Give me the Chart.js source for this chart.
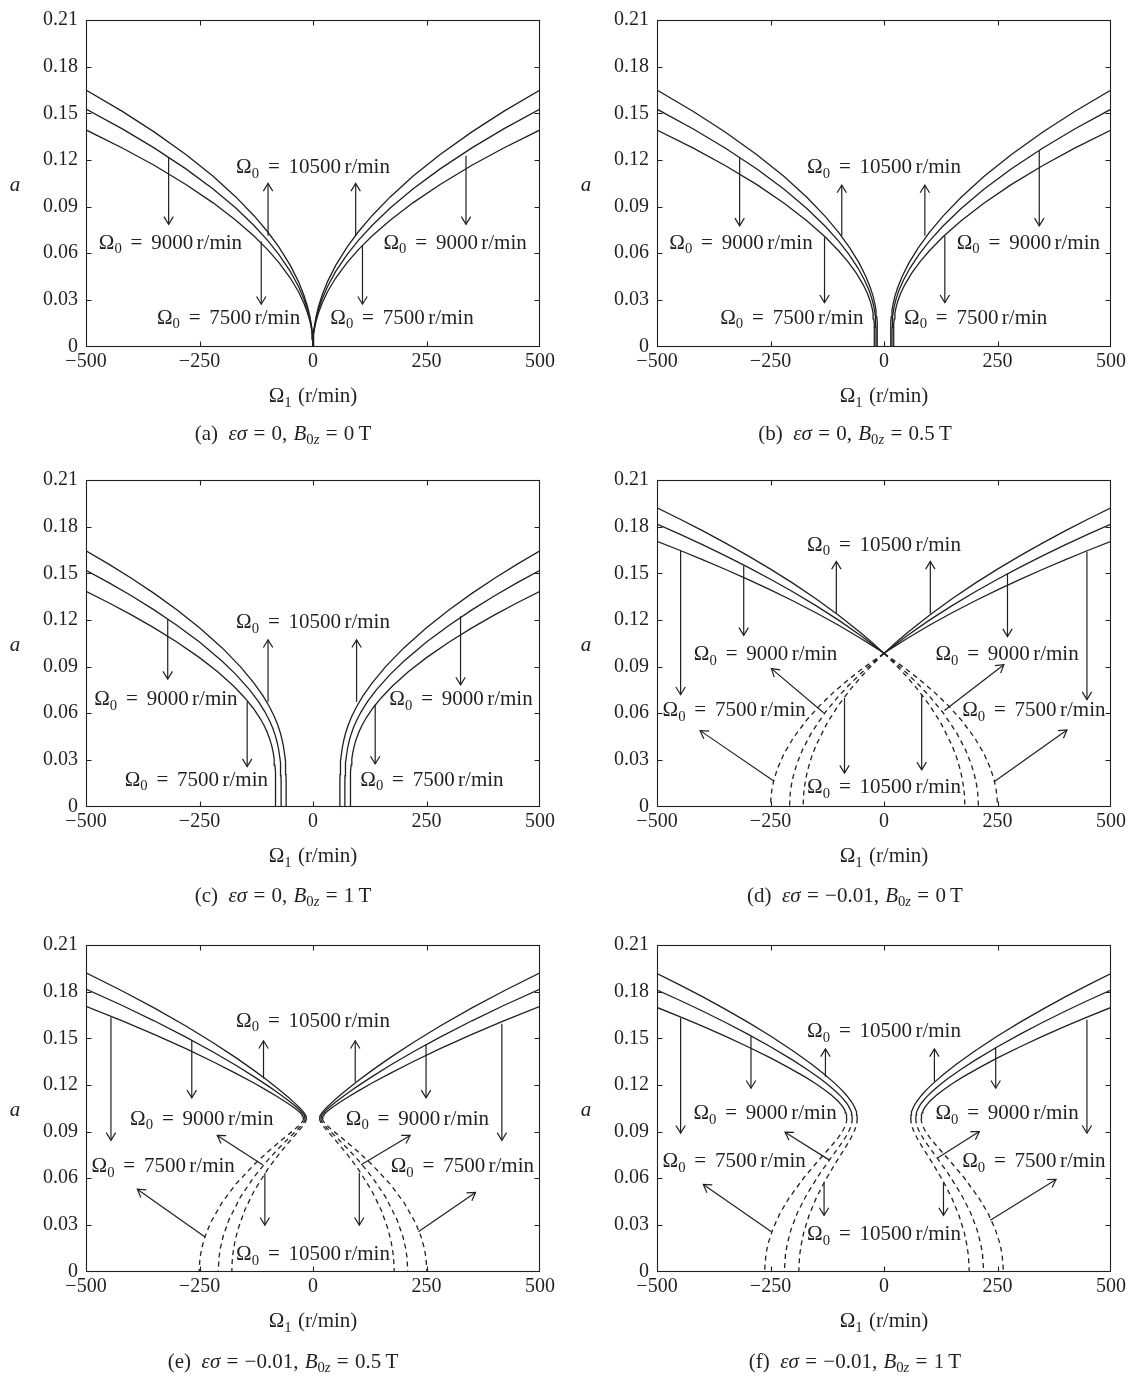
<!DOCTYPE html>
<html>
<head>
<meta charset="utf-8">
<title>a versus Omega1</title>
<script src="https://cdn.jsdelivr.net/npm/chart.js@4.4.1/dist/chart.umd.min.js"></script>
<style>
html,body{margin:0;padding:0;background:#fff;}
body{width:1133px;height:1376px;position:relative;overflow:hidden;}
canvas{position:absolute;}
.cap{position:absolute;transform:translate(-50%,-50%);white-space:nowrap;font-family:"Liberation Serif","Times New Roman",serif;font-size:21px;color:#231f20;line-height:1;word-spacing:1px;}
.cap sub{font-size:0.7em;vertical-align:-0.3em;line-height:0;}
</style>
</head>
<body>
<canvas id="cv-a" width="566" height="440" style="left:0px;top:0px"></canvas>
<canvas id="cv-b" width="567" height="440" style="left:566px;top:0px"></canvas>
<canvas id="cv-c" width="566" height="440" style="left:0px;top:460px"></canvas>
<canvas id="cv-d" width="567" height="440" style="left:566px;top:460px"></canvas>
<canvas id="cv-e" width="566" height="440" style="left:0px;top:925px"></canvas>
<canvas id="cv-f" width="567" height="440" style="left:566px;top:925px"></canvas>

<div class="cap" style="left:283px;top:433px">(a)&ensp;<i>εσ</i> = 0, <i>B</i><sub>0<i>z</i></sub> = 0&thinsp;T</div>
<div class="cap" style="left:855px;top:433px">(b)&ensp;<i>εσ</i> = 0, <i>B</i><sub>0<i>z</i></sub> = 0.5&thinsp;T</div>
<div class="cap" style="left:283px;top:895px">(c)&ensp;<i>εσ</i> = 0, <i>B</i><sub>0<i>z</i></sub> = 1&thinsp;T</div>
<div class="cap" style="left:855px;top:895px">(d)&ensp;<i>εσ</i> = −0.01, <i>B</i><sub>0<i>z</i></sub> = 0&thinsp;T</div>
<div class="cap" style="left:283px;top:1361px">(e)&ensp;<i>εσ</i> = −0.01, <i>B</i><sub>0<i>z</i></sub> = 0.5&thinsp;T</div>
<div class="cap" style="left:855px;top:1361px">(f)&ensp;<i>εσ</i> = −0.01, <i>B</i><sub>0<i>z</i></sub> = 1&thinsp;T</div>

<script>
// ---------- axes ----------
const xTickValues = [-500, -250, 0, 250, 500];
const xTickLabels = ['\u2212500', '\u2212250', '0', '250', '500'];
const yTickValues = [0, 0.03, 0.06, 0.09, 0.12, 0.15, 0.18, 0.21];
const yTickLabels = ['0', '0.03', '0.06', '0.09', '0.12', '0.15', '0.18', '0.21'];

// ---------- data: |Omega1| (r/min) and a (curves are mirror-symmetric) ----------
// (a) es = 0, B0z = 0 T
const absOmega1_a = [0,0.5,1.5,3.5,7,12,20,32,50,75,100,130,170,220,280,350,420,500];
const a_a_10500 = [0,0.00522,0.00904,0.01380,0.01952,0.02556,0.03300,0.04174,0.05218,0.06390,0.07379,0.08413,0.09621,0.10945,0.12347,0.13805,0.15123,0.16500];
const a_a_9000  = [0,0.00483,0.00836,0.01278,0.01807,0.02366,0.03054,0.03863,0.04829,0.05914,0.06829,0.07786,0.08903,0.10128,0.11426,0.12775,0.13995,0.15269];
const a_a_7500  = [0,0.00441,0.00763,0.01165,0.01648,0.02158,0.02786,0.03524,0.04405,0.05395,0.06230,0.07103,0.08123,0.09240,0.10424,0.11655,0.12767,0.13930];

// (b) es = 0, B0z = 0.5 T
const absOmega1_b_10500 = [14.5,14.6,14.8,15.2,16,17.5,20,24,30,40,55,75,100,130,170,220,280,350,420,500];
const a_b_10500 = [0,0.00964,0.01271,0.01576,0.01919,0.02310,0.02739,0.03227,0.03782,0.04505,0.05375,0.06330,0.07340,0.08387,0.09604,0.10933,0.12339,0.13799,0.15118,0.16497];
const absOmega1_b_9000 = [17.5,17.6,17.8,18.2,19,20.5,23,27,33,43,58,78,100,130,170,220,280,350,420,500];
const a_b_9000 = [0,0.00935,0.01232,0.01527,0.01857,0.02231,0.02638,0.03096,0.03612,0.04280,0.05078,0.05954,0.06776,0.07750,0.08880,0.10112,0.11415,0.12767,0.13988,0.15265];
const absOmega1_b_7500 = [21,21.1,21.3,21.7,22.5,24,26.5,30.5,36.5,46,61,80,100,130,170,220,280,350,420,500];
const a_b_7500 = [0,0.00892,0.01176,0.01457,0.01771,0.02124,0.02505,0.02930,0.03404,0.03985,0.04715,0.05474,0.06160,0.07056,0.08092,0.09219,0.10410,0.11644,0.12759,0.13924];

// (c) es = 0, B0z = 1 T
const absOmega1_c_10500 = [59,59.2,59.5,60,61,62.5,65,68,72,78,85,95,110,130,160,200,250,300,350,400,450,500];
const a_c_10500 = [0,0.01627,0.02047,0.02437,0.02904,0.03351,0.03854,0.04291,0.04740,0.05271,0.05772,0.06367,0.07110,0.07942,0.08999,0.10201,0.11501,0.12655,0.13706,0.14677,0.15586,0.16442];
const absOmega1_c_9000 = [70,70.2,70.5,71,72,73.5,76,79,83,89,96,106,120,140,170,200,250,300,350,400,450,500];
const a_c_9000 = [0,0.01571,0.01977,0.02353,0.02803,0.03233,0.03715,0.04132,0.04560,0.05063,0.05535,0.06092,0.06742,0.07519,0.08499,0.09347,0.10579,0.11663,0.12645,0.13552,0.14397,0.15194];
const absOmega1_c_7500 = [82,82.2,82.5,83,84,85.5,88,91,95,101,108,118,132,150,175,210,250,300,350,400,450,500];
const a_c_7500 = [0,0.01491,0.01876,0.02233,0.02659,0.03065,0.03521,0.03913,0.04315,0.04784,0.05223,0.05739,0.06336,0.06982,0.07746,0.08662,0.09574,0.10583,0.11492,0.12326,0.13104,0.13836];

// (d) es = -0.01, B0z = 0 T
const absOmega1_d_solid = [0,10,25,50,100,150,200,250,300,350,400,450,500];
const a_d_solid_10500 = [0.0985,0.10122,0.10518,0.11147,0.12307,0.13368,0.14350,0.15269,0.16136,0.16959,0.17743,0.18494,0.19216];
const a_d_solid_9000  = [0.0985,0.10084,0.10425,0.10970,0.11985,0.12922,0.13794,0.14615,0.15392,0.16131,0.16839,0.17517,0.18171];
const a_d_solid_7500  = [0.0985,0.10045,0.10331,0.10790,0.11655,0.12459,0.13215,0.13930,0.14610,0.15260,0.15883,0.16482,0.17061];
const absOmega1_d_dash_10500 = [0,25,50,75,100,125,150,160,168,173,176,177.5,178.2];
const a_d_dash_10500 = [0.0985,0.09133,0.08354,0.07496,0.06525,0.05381,0.03917,0.03146,0.02355,0.01680,0.01090,0.00609,0];
const absOmega1_d_dash_9000 = [0,25,50,75,100,130,160,180,192,200,204,206.5,208.1];
const a_d_dash_9000 = [0.0985,0.09239,0.08585,0.07877,0.07099,0.06033,0.04734,0.03617,0.02737,0.01939,0.01377,0.00854,0];
const absOmega1_d_dash_7500 = [0,25,50,80,110,140,170,200,220,235,243,247,249,250];
const a_d_dash_7500 = [0.0985,0.09344,0.08810,0.08122,0.07371,0.06533,0.05572,0.04405,0.03411,0.02412,0.01647,0.01077,0.00619,0];

// (e) es = -0.01, B0z = 0.5 T
const absOmega1_e_solid_10500 = [14.5,14.6,14.8,15.2,16,17.5,20,24,30,40,55,75,100,130,170,220,280,350,420,500];
const a_e_solid_10500 = [0.0985,0.09897,0.09931,0.09975,0.10035,0.10117,0.10224,0.10365,0.10551,0.10831,0.11221,0.11708,0.12284,0.12937,0.13757,0.14716,0.15788,0.16954,0.18044,0.19213];
const absOmega1_e_dash_10500 = [14.5,14.6,14.8,15.2,16,17.5,20,24,30,40,55,75,100,130,150,165,172,176,178,178.8];
const a_e_dash_10500 = [0.0985,0.09803,0.09768,0.09723,0.09661,0.09575,0.09461,0.09306,0.09095,0.08759,0.08254,0.07547,0.06569,0.05165,0.03966,0.02743,0.01923,0.01231,0.00648,0];
const absOmega1_e_solid_9000 = [17.5,17.6,17.8,18.2,19,20.5,23,27,33,43,58,78,100,130,170,220,280,350,420,500];
const a_e_solid_9000 = [0.0985,0.09894,0.09927,0.09968,0.10024,0.10100,0.10197,0.10325,0.10491,0.10739,0.11082,0.11509,0.11955,0.12533,0.13262,0.14117,0.15077,0.16125,0.17109,0.18167];
const absOmega1_e_dash_9000 = [17.5,17.6,17.8,18.2,19,20.5,23,27,33,43,58,78,100,130,160,185,198,204,207,208.8];
const a_e_dash_9000 = [0.0985,0.09805,0.09773,0.09731,0.09673,0.09594,0.09490,0.09351,0.09164,0.08872,0.08440,0.07847,0.07149,0.06079,0.04781,0.03338,0.02249,0.01498,0.00917,0];
const absOmega1_e_solid_7500 = [21,21.1,21.3,21.7,22.5,24,26.5,30.5,36.5,46,61,80,100,130,170,220,280,350,420,500];
const a_e_solid_7500 = [0.0985,0.09890,0.09920,0.09957,0.10008,0.10076,0.10163,0.10276,0.10421,0.10626,0.10920,0.11269,0.11617,0.12121,0.12747,0.13491,0.14331,0.15252,0.16119,0.17056];
const absOmega1_e_dash_7500 = [21,21.1,21.3,21.7,22.5,24,26.5,30.5,36.5,46,61,80,100,130,170,200,225,238,245,249,250.9];
const a_e_dash_7500 = [0.0985,0.09809,0.09780,0.09742,0.09689,0.09618,0.09526,0.09404,0.09243,0.09008,0.08648,0.08189,0.07686,0.06872,0.05617,0.04453,0.03175,0.02239,0.01512,0.00853,0];

// (f) es = -0.01, B0z = 1 T
const absOmega1_f_solid_10500 = [59,59.2,59.5,60,61,62.5,65,68,72,78,85,95,110,130,160,200,250,300,350,400,450,500];
const a_f_solid_10500 = [0.0985,0.09983,0.10060,0.10147,0.10269,0.10404,0.10577,0.10744,0.10931,0.11171,0.11417,0.11729,0.12148,0.12653,0.13342,0.14180,0.15143,0.16037,0.16878,0.17676,0.18437,0.19167];
const absOmega1_f_dash_10500 = [59,59.2,59.5,60,61,62.5,65,68,72,78,85,95,110,130,150,165,177,183,186,187.7];
const a_f_dash_10500 = [0.0985,0.09715,0.09635,0.09544,0.09412,0.09262,0.09065,0.08866,0.08634,0.08321,0.07981,0.07515,0.06817,0.05826,0.04683,0.03622,0.02481,0.01642,0.00988,0];
const absOmega1_f_solid_9000 = [70,70.2,70.5,71,72,73.5,76,79,83,89,96,106,120,140,170,200,250,300,350,400,450,500];
const a_f_solid_9000 = [0.0985,0.09974,0.10046,0.10127,0.10241,0.10367,0.10527,0.10682,0.10854,0.11075,0.11298,0.11582,0.11936,0.12392,0.13010,0.13579,0.14454,0.15266,0.16029,0.16753,0.17444,0.18107];
const absOmega1_f_dash_9000 = [70,70.2,70.5,71,72,73.5,76,79,83,89,96,106,120,140,170,190,205,213,217,219.5];
const a_f_dash_9000 = [0.0985,0.09724,0.09650,0.09565,0.09443,0.09304,0.09122,0.08941,0.08731,0.08449,0.08148,0.07740,0.07181,0.06363,0.04962,0.03828,0.02678,0.01793,0.01114,0];
const absOmega1_f_solid_7500 = [82,82.2,82.5,83,84,85.5,88,91,95,101,108,118,132,150,175,210,250,300,350,400,450,500];
const a_f_solid_7500 = [0.0985,0.09962,0.10027,0.10100,0.10203,0.10316,0.10460,0.10599,0.10753,0.10950,0.11149,0.11400,0.11712,0.12073,0.12531,0.13117,0.13736,0.14457,0.15135,0.15778,0.16393,0.16984];
const absOmega1_f_dash_7500 = [82,82.2,82.5,83,84,85.5,88,91,95,101,108,118,132,150,175,210,230,245,255,260,263.1];
const a_f_dash_7500 = [0.0985,0.09736,0.09670,0.09593,0.09484,0.09361,0.09199,0.09039,0.08855,0.08610,0.08351,0.08006,0.07542,0.06948,0.06084,0.04689,0.03691,0.02724,0.01819,0.01124,0];

// ---------- annotations (data coordinates) ----------
// labels: [Omega1, a, Omega0 text]; arrows: [Omega1 start, a start, Omega1 tip, a tip]
const labels_a = [[0,0.116,'10500'],[-314,0.0675,'9000'],[313,0.0675,'9000'],[-186,0.0192,'7500'],[196,0.0192,'7500']];
const arrows_a = [[-318,0.1212,-318,0.0786],[-99,0.0713,-99,0.1049],[94,0.0713,94,0.1049],[-114,0.0675,-114,0.0272],[109,0.065,109,0.0272],[337,0.1227,337,0.0786]];
const labels_b = [[0,0.116,'10500'],[-315,0.0675,'9000'],[318,0.0675,'9000'],[-203,0.0192,'7500'],[202,0.0192,'7500']];
const arrows_b = [[-318,0.1217,-318,0.0776],[-93,0.0713,-93,0.1038],[90,0.0713,90,0.1038],[-131,0.0702,-131,0.0282],[134,0.0713,134,0.0282],[342,0.1258,342,0.0776]];
const labels_c = [[0,0.1191,'10500'],[-324,0.0698,'9000'],[326,0.0698,'9000'],[-257,0.0179,'7500'],[262,0.0179,'7500']];
const arrows_c = [[-320,0.1202,-320,0.082],[-99,0.0673,-99,0.1072],[96,0.0673,96,0.1072],[-145,0.0673,-145,0.0257],[137,0.0656,137,0.0274],[325,0.1223,325,0.0782]];
const labels_d = [[0,0.1691,'10500'],[-261,0.0988,'9000'],[271,0.0988,'9000'],[-330,0.0625,'7500'],[330,0.0625,'7500'],[0,0.0131,'10500']];
const arrows_d = [[-105,0.1244,-105,0.1576],[102,0.124,102,0.1576],[-309,0.1548,-309,0.1101],[272,0.15,272,0.1093],[-448,0.1643,-448,0.0719],[447,0.1638,447,0.0688],[-87,0.0698,-87,0.0215],[83,0.072,83,0.0236],[-133,0.0603,-248,0.0887],[133,0.0618,264,0.0912],[-242,0.0162,-405,0.0488],[244,0.0162,403,0.0492]];
const labels_e = [[0,0.162,'10500'],[-245,0.0991,'9000'],[230,0.0991,'9000'],[-330,0.0686,'7500'],[329,0.0686,'7500'],[0,0.012,'10500']];
const arrows_e = [[-109,0.1242,-109,0.1484],[93,0.1221,93,0.1484],[-267,0.1484,-267,0.1117],[249,0.1463,249,0.1117],[-445,0.1635,-445,0.0844],[416,0.1593,416,0.0844],[-106,0.0634,-106,0.0298],[102,0.0634,102,0.0298],[-111,0.0686,-211,0.0875],[106,0.0686,214,0.0875],[-237,0.022,-387,0.0529],[232,0.0256,358,0.0508]];
const labels_f = [[0,0.1551,'10500'],[-262,0.1026,'9000'],[271,0.1026,'9000'],[-330,0.0718,'7500'],[330,0.0718,'7500'],[0,0.0246,'10500']];
const arrows_f = [[-129,0.1252,-129,0.1431],[111,0.1221,111,0.1431],[-293,0.1515,-293,0.1179],[246,0.1442,246,0.1179],[-448,0.1631,-448,0.089],[447,0.162,447,0.089],[-132,0.0571,-132,0.0361],[131,0.0571,131,0.0361],[-121,0.0718,-218,0.0896],[117,0.0728,210,0.09],[-248,0.0256,-398,0.056],[234,0.0329,379,0.0592]];

// ---------- rendering ----------
const INK = '#231f20';
const SERIF = '"Liberation Serif", "Times New Roman", serif';

function drawParts(ctx, parts, cx, cy, F) {
  const widths = [];
  let total = 0;
  parts.forEach(p => {
    if (p.gap !== undefined) { widths.push(p.gap * F); total += p.gap * F; return; }
    const fs = p.sub ? F * 0.7 : F;
    ctx.font = (p.italic ? 'italic ' : '') + fs + 'px ' + SERIF;
    const w = ctx.measureText(p.t).width;
    widths.push(w); total += w;
  });
  let x = cx - total / 2;
  const base = cy + 0.34 * F;
  ctx.textAlign = 'left';
  ctx.textBaseline = 'alphabetic';
  parts.forEach((p, i) => {
    if (p.gap === undefined) {
      const fs = p.sub ? F * 0.7 : F;
      ctx.font = (p.italic ? 'italic ' : '') + fs + 'px ' + SERIF;
      ctx.fillText(p.t, x, p.sub ? base + 0.22 * F : base);
    }
    x += widths[i];
  });
}

function omegaLabelParts(val) {
  return [{t:'\u03A9'},{t:'0',sub:true},{gap:0.42},{t:'='},{gap:0.42},{t:val},{gap:0.16},{t:'r/min'}];
}

function drawArrow(ctx, x1, y1, x2, y2) {
  ctx.beginPath();
  ctx.moveTo(x1, y1); ctx.lineTo(x2, y2); ctx.stroke();
  const ang = Math.atan2(y2 - y1, x2 - x1);
  const L = 9, phi = 0.55;
  ctx.beginPath();
  ctx.moveTo(x2 - L * Math.cos(ang - phi), y2 - L * Math.sin(ang - phi));
  ctx.lineTo(x2, y2);
  ctx.lineTo(x2 - L * Math.cos(ang + phi), y2 - L * Math.sin(ang + phi));
  ctx.stroke();
}

const figurePlugin = {
  id: 'figure',
  afterDatasetsDraw(chart) {
    const opts = chart.options.plugins.figure;
    const ctx = chart.ctx, ca = chart.chartArea, xs = chart.scales.x, ys = chart.scales.y;
    ctx.save();
    ctx.strokeStyle = INK; ctx.fillStyle = INK; ctx.lineWidth = 1.1;
    // frame
    const L = Math.round(ca.left) + 0.5, R = Math.round(ca.right) - 0.5;
    const T = Math.round(ca.top) + 0.5, B = Math.round(ca.bottom) - 0.5;
    ctx.strokeRect(L, T, R - L, B - T);
    // inward tick marks
    const tl = 5;
    ctx.beginPath();
    xTickValues.slice(1, -1).forEach(v => {
      const px = Math.round(xs.getPixelForValue(v)) + 0.5;
      ctx.moveTo(px, B); ctx.lineTo(px, B - tl);
      ctx.moveTo(px, T); ctx.lineTo(px, T + tl);
    });
    yTickValues.slice(1, -1).forEach(v => {
      const py = Math.round(ys.getPixelForValue(v)) + 0.5;
      ctx.moveTo(L, py); ctx.lineTo(L + tl, py);
      ctx.moveTo(R, py); ctx.lineTo(R - tl, py);
    });
    ctx.stroke();
    // arrows
    ctx.lineWidth = 1.2;
    opts.arrows.forEach(a => {
      drawArrow(ctx, xs.getPixelForValue(a[0]), ys.getPixelForValue(a[1]),
                     xs.getPixelForValue(a[2]), ys.getPixelForValue(a[3]));
    });
    // labels
    opts.labels.forEach(l => {
      drawParts(ctx, omegaLabelParts(l[2]), xs.getPixelForValue(l[0]), ys.getPixelForValue(l[1]), 21);
    });
    // axis titles
    drawParts(ctx, [{t:'\u03A9'},{t:'1',sub:true},{gap:0.3},{t:'(r/min)'}], (ca.left + ca.right) / 2, ca.bottom + 48.5, 21);
    drawParts(ctx, [{t:'a', italic:true}], ca.left - 71, (ca.top + ca.bottom) / 2 + 1, 21);
    ctx.restore();
  }
};

function buildDatasets(curves) {
  const ds = [];
  curves.forEach(c => {
    [-1, 1].forEach(sign => {
      ds.push({
        data: c[0].map((v, i) => ({x: sign * v, y: c[1][i]})),
        showLine: true,
        borderColor: INK,
        borderWidth: 1.3,
        borderDash: c[2] ? [5, 4] : [],
        pointRadius: 0,
        pointHoverRadius: 0,
        fill: false,
        tension: 0
      });
    });
  });
  return ds;
}

const panels = [
  {canvas:'cv-a', yWidth:86, padRight:26, labels:labels_a, arrows:arrows_a, curves:[
    [absOmega1_a,a_a_10500,false],[absOmega1_a,a_a_9000,false],[absOmega1_a,a_a_7500,false]]},
  {canvas:'cv-b', yWidth:91, padRight:22, labels:labels_b, arrows:arrows_b, curves:[
    [absOmega1_b_10500,a_b_10500,false],[absOmega1_b_9000,a_b_9000,false],[absOmega1_b_7500,a_b_7500,false]]},
  {canvas:'cv-c', yWidth:86, padRight:26, labels:labels_c, arrows:arrows_c, curves:[
    [absOmega1_c_10500,a_c_10500,false],[absOmega1_c_9000,a_c_9000,false],[absOmega1_c_7500,a_c_7500,false]]},
  {canvas:'cv-d', yWidth:91, padRight:22, labels:labels_d, arrows:arrows_d, curves:[
    [absOmega1_d_solid,a_d_solid_10500,false],[absOmega1_d_solid,a_d_solid_9000,false],[absOmega1_d_solid,a_d_solid_7500,false],
    [absOmega1_d_dash_10500,a_d_dash_10500,true],[absOmega1_d_dash_9000,a_d_dash_9000,true],[absOmega1_d_dash_7500,a_d_dash_7500,true]]},
  {canvas:'cv-e', yWidth:86, padRight:26, labels:labels_e, arrows:arrows_e, curves:[
    [absOmega1_e_solid_10500,a_e_solid_10500,false],[absOmega1_e_solid_9000,a_e_solid_9000,false],[absOmega1_e_solid_7500,a_e_solid_7500,false],
    [absOmega1_e_dash_10500,a_e_dash_10500,true],[absOmega1_e_dash_9000,a_e_dash_9000,true],[absOmega1_e_dash_7500,a_e_dash_7500,true]]},
  {canvas:'cv-f', yWidth:91, padRight:22, labels:labels_f, arrows:arrows_f, curves:[
    [absOmega1_f_solid_10500,a_f_solid_10500,false],[absOmega1_f_solid_9000,a_f_solid_9000,false],[absOmega1_f_solid_7500,a_f_solid_7500,false],
    [absOmega1_f_dash_10500,a_f_dash_10500,true],[absOmega1_f_dash_9000,a_f_dash_9000,true],[absOmega1_f_dash_7500,a_f_dash_7500,true]]}
];

panels.forEach(p => {
  const cv = document.getElementById(p.canvas);
  new Chart(cv.getContext('2d'), {
    type: 'scatter',
    data: { datasets: buildDatasets(p.curves) },
    options: {
      responsive: false,
      animation: false,
      devicePixelRatio: 1,
      events: [],
      layout: { padding: { left: 0, right: p.padRight, top: 13.3, bottom: 0 } },
      plugins: {
        legend: { display: false },
        tooltip: { enabled: false },
        figure: { labels: p.labels, arrows: p.arrows }
      },
      scales: {
        x: {
          type: 'linear', min: -500, max: 500,
          grid: { display: false, drawTicks: false },
          border: { display: false },
          afterBuildTicks: s => { s.ticks = xTickValues.map(v => ({ value: v })); },
          afterFit: s => { s.height = 440 - 346.5; },
          ticks: {
            autoSkip: false, maxRotation: 0, padding: 3,
            color: INK, font: { family: SERIF, size: 20 },
            callback: (v, i) => xTickLabels[i]
          }
        },
        y: {
          type: 'linear', min: 0, max: 0.21,
          grid: { display: false, drawTicks: false },
          border: { display: false },
          afterBuildTicks: s => { s.ticks = yTickValues.map(v => ({ value: v })); },
          afterFit: s => { s.width = p.yWidth; },
          ticks: {
            autoSkip: false, padding: 8,
            color: INK, font: { family: SERIF, size: 20 },
            callback: (v, i) => yTickLabels[i]
          }
        }
      }
    },
    plugins: [figurePlugin]
  });
});
</script>
</body>
</html>
